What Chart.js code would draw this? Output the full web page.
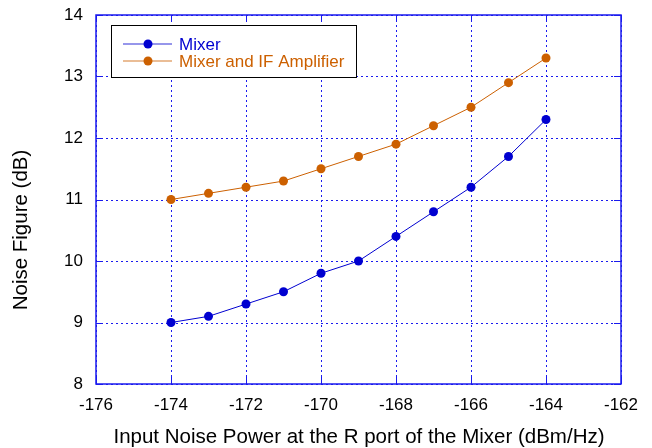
<!DOCTYPE html>
<html>
<head>
<meta charset="utf-8">
<script src="https://cdn.jsdelivr.net/npm/chart.js@4"></script>
<style>
  html, body { margin: 0; padding: 0; background: #fff; }
  #wrap { width: 652px; height: 448px; position: relative; }
</style>
</head>
<body>
<div id="wrap"><canvas id="nfChart"></canvas></div>
<script>
// data
const inputPower = [-174, -173, -172, -171, -170, -169, -168, -167, -166, -165, -164];
const mixerNF = [9.0, 9.1, 9.3, 9.5, 9.8, 10.0, 10.4, 10.8, 11.2, 11.7, 12.3];
const mixerIfNF = [11.0, 11.1, 11.2, 11.3, 11.5, 11.7, 11.9, 12.2, 12.5, 12.9, 13.3];
const xTicks = [-176, -174, -172, -170, -168, -166, -164, -162];
const yTicks = [8, 9, 10, 11, 12, 13, 14];

const seriesNames = ["Mixer", "Mixer and IF Amplifier"];
const blue = "#0000d0";
const orange = "#cc6000";
const gridBlue = "#1a1aee";
const font = "Liberation Sans, Arial, sans-serif";

function toPoints(xs, ys) {
  return xs.map((x, i) => ({ x: x, y: ys[i] }));
}

// dotted grid behind the data
const dottedGrid = {
  id: "dottedGrid",
  beforeDatasetsDraw(chart) {
    const ctx = chart.ctx;
    const a = chart.chartArea;
    const xs = chart.scales.x, ys = chart.scales.y;
    ctx.save();
    ctx.strokeStyle = gridBlue;
    ctx.lineWidth = 1;
    ctx.setLineDash([2, 3]);
    xTicks.forEach(v => {
      const px = Math.round(xs.getPixelForValue(v)) + 0.5;
      ctx.beginPath();
      ctx.moveTo(px, a.top); ctx.lineTo(px, a.bottom);
      ctx.stroke();
    });
    yTicks.forEach(v => {
      const py = Math.round(ys.getPixelForValue(v)) + 0.5;
      ctx.beginPath();
      ctx.moveTo(a.left, py); ctx.lineTo(a.right, py);
      ctx.stroke();
    });
    ctx.restore();
  }
};

// frame, inward tick marks, legend box and axis titles
const decorations = {
  id: "decorations",
  afterDraw(chart) {
    const ctx = chart.ctx;
    const a = chart.chartArea;
    const xs = chart.scales.x, ys = chart.scales.y;
    ctx.save();
    ctx.strokeStyle = gridBlue;
    ctx.lineWidth = 1.5;
    ctx.strokeRect(a.left, a.top, a.right - a.left, a.bottom - a.top);
    ctx.lineWidth = 1;
    xTicks.forEach(v => {
      const px = Math.round(xs.getPixelForValue(v)) + 0.5;
      ctx.beginPath();
      ctx.moveTo(px, a.bottom); ctx.lineTo(px, a.bottom - 7);
      ctx.moveTo(px, a.top); ctx.lineTo(px, a.top + 7);
      ctx.stroke();
    });
    yTicks.forEach(v => {
      const py = Math.round(ys.getPixelForValue(v)) + 0.5;
      ctx.beginPath();
      ctx.moveTo(a.left, py); ctx.lineTo(a.left + 7, py);
      ctx.moveTo(a.right, py); ctx.lineTo(a.right - 7, py);
      ctx.stroke();
    });

    // legend
    const lx = 111, ly = 25, lw = 245, lh = 52;
    ctx.fillStyle = "#fff";
    ctx.fillRect(lx, ly, lw, lh);
    ctx.strokeStyle = "#000";
    ctx.lineWidth = 1;
    ctx.strokeRect(lx + 0.5, ly + 0.5, lw, lh);
    const cols = [blue, orange];
    ctx.font = "17px " + font;
    ctx.textBaseline = "middle";
    ctx.textAlign = "left";
    cols.forEach((c, i) => {
      const yy = ly + 19 + i * 17;
      ctx.strokeStyle = c;
      ctx.globalAlpha = 0.55;
      ctx.lineWidth = 1.5;
      ctx.beginPath();
      ctx.moveTo(lx + 12, yy); ctx.lineTo(lx + 61, yy);
      ctx.stroke();
      ctx.globalAlpha = 1;
      ctx.fillStyle = c;
      ctx.beginPath();
      ctx.arc(lx + 37, yy, 4.5, 0, Math.PI * 2);
      ctx.fill();
      ctx.fillText(seriesNames[i], lx + 68, yy + 1);
    });

    // axis titles
    ctx.fillStyle = "#000";
    ctx.font = "20.5px " + font;
    ctx.textAlign = "center";
    ctx.textBaseline = "middle";
    ctx.fillText("Input Noise Power at the R port of the Mixer (dBm/Hz)", 359, 437);
    ctx.translate(21, 230);
    ctx.rotate(-Math.PI / 2);
    ctx.fillText("Noise Figure (dB)", 0, 0);
    ctx.restore();
  }
};

const config = {
  type: "line",
  data: {
    datasets: [
      {
        label: seriesNames[0],
        data: toPoints(inputPower, mixerNF),
        borderColor: blue,
        backgroundColor: blue,
        borderWidth: 1,
        pointRadius: 4.5,
        pointBorderWidth: 0,
      },
      {
        label: seriesNames[1],
        data: toPoints(inputPower, mixerIfNF),
        borderColor: orange,
        backgroundColor: orange,
        borderWidth: 1,
        pointRadius: 4.5,
        pointBorderWidth: 0,
      },
    ],
  },
  options: {
    responsive: true,
    maintainAspectRatio: false,
    animation: false,
    layout: { padding: { top: 15, right: 31, left: 0, bottom: 0 } },
    scales: {
      x: {
        type: "linear",
        min: -176,
        max: -162,
        afterFit(s) {
          s.height = 64;
          s.paddingLeft = 0;
          s.paddingRight = 0;
        },
        afterBuildTicks(s) { s.ticks = xTicks.map(v => ({ value: v })); },
        grid: { display: false, drawTicks: false },
        border: { display: false },
        ticks: {
          padding: 11,
          color: "#000",
          font: { family: font, size: 17 },
        },
      },
      y: {
        min: 8,
        max: 14,
        afterFit(s) {
          s.width = 96;
          s.paddingTop = 0;
          s.paddingBottom = 0;
        },
        afterBuildTicks(s) { s.ticks = yTicks.map(v => ({ value: v })); },
        grid: { display: false, drawTicks: false },
        border: { display: false },
        ticks: {
          padding: 13,
          color: "#000",
          font: { family: font, size: 17 },
        },
      },
    },
    plugins: {
      legend: { display: false },
      title: { display: false },
      tooltip: { enabled: false },
    },
  },
  plugins: [dottedGrid, decorations],
};

new Chart(document.getElementById("nfChart").getContext("2d"), config);
</script>
</body>
</html>
